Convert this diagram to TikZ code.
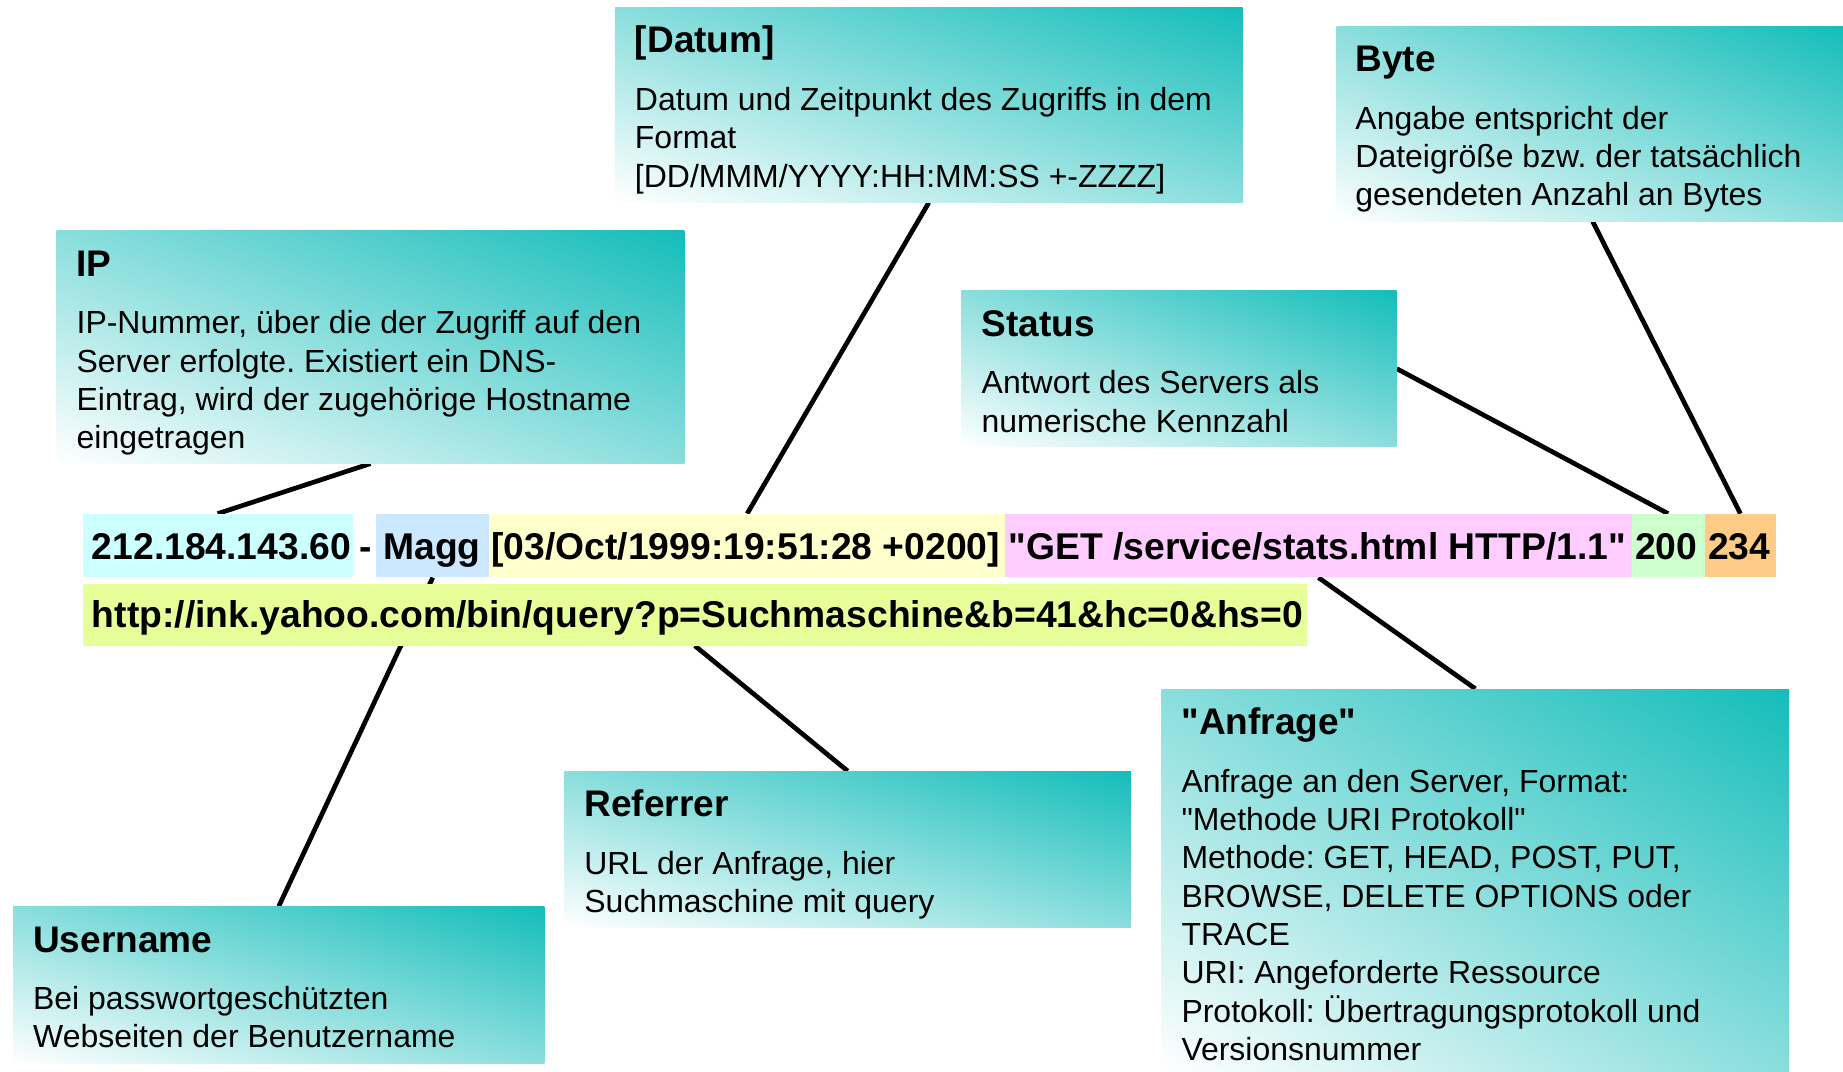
\documentclass[tikz,border=0pt]{standalone}
\usepackage{fontspec}
\setmainfont{Liberation Sans}[Ligatures=TeXOff]
\usetikzlibrary{calc}
\pgfdeclarelayer{bg}
\pgfsetlayers{bg,main}
\pgfdeclarefunctionalshading{tealgrad}{\pgfpoint{-50bp}{-50bp}}{\pgfpoint{50bp}{50bp}}{}{%
  add 100 div 0.5 add dup dup 0.922 mul 1 exch sub exch 0.259 mul 1 exch sub 3 2 roll 0.271 mul 1 exch sub}
\definecolor{cipc}{RGB}{204,255,255}
\definecolor{cuserc}{RGB}{204,232,255}
\definecolor{cdatec}{RGB}{255,255,204}
\definecolor{creqc}{RGB}{255,204,255}
\definecolor{cstatc}{RGB}{204,255,204}
\definecolor{cbytec}{RGB}{255,204,136}
\definecolor{curlc}{RGB}{230,255,153}
\tikzset{
  infobox/.style={draw=none, inner sep=0pt, anchor=north west, shading=tealgrad},
  ttl/.style={anchor=base west, inner sep=0pt, font=\fontsize{31.5}{36}\selectfont\bfseries},
  bdy/.style={anchor=base west, inner sep=0pt, font=\fontsize{27.2}{32.6}\selectfont\frenchspacing},
  seg/.style={anchor=north west, inner sep=0pt, draw=none},
  logtxt/.style={anchor=base west, inner sep=0pt, font=\fontsize{31.7}{38}\selectfont\bfseries},
  conn/.style={line width=4pt}
}
\begin{document}
\frenchspacing
\begin{tikzpicture}[x=1pt,y=-1pt]
\useasboundingbox (0,0) rectangle (1568,912);
% info boxes
\node[infobox, minimum width=534pt, minimum height=198pt] (ipbox) at (48,196) {};
\node[ttl] (iptitle) at (65,235) {IP};
\node[bdy] (ipbody) at (65,284) {\parbox[t]{600pt}{\raggedright\frenchspacing IP-Nummer, über die der Zugriff auf den\\Server erfolgte. Existiert ein DNS-\\Eintrag, wird der zugehörige Hostname\\eingetragen}};

\node[infobox, minimum width=534pt, minimum height=166pt] (datbox) at (523,6) {};
\node[ttl] (dattitle) at (540,45) {[Datum]};
\node[bdy] (datbody) at (540,94) {\parbox[t]{600pt}{\raggedright\frenchspacing Datum und Zeitpunkt des Zugriffs in dem\\Format\\{}[DD/MMM/YYYY:HH:MM:SS +-ZZZZ]}};

\node[infobox, minimum width=431pt, minimum height=166pt] (bytbox) at (1137,22) {};
\node[ttl] (byttitle) at (1153,61) {Byte};
\node[bdy] (bytbody) at (1153,110) {\parbox[t]{600pt}{\raggedright\frenchspacing Angabe entspricht der\\Dateigröße bzw. der tatsächlich\\gesendeten Anzahl an Bytes}};

\node[infobox, minimum width=370pt, minimum height=133pt] (stabox) at (818,247) {};
\node[ttl] (statitle) at (835,286) {Status};
\node[bdy] (stabody) at (835,335) {\parbox[t]{600pt}{\raggedright\frenchspacing Antwort des Servers als\\numerische Kennzahl}};

\node[infobox, minimum width=482pt, minimum height=133pt] (refbox) at (480,656) {};
\node[ttl] (reftitle) at (497,695) {Referrer};
\node[bdy] (refbody) at (497,744) {\parbox[t]{600pt}{\raggedright\frenchspacing URL der Anfrage, hier\\Suchmaschine mit query}};

\node[infobox, minimum width=534pt, minimum height=326pt] (anfbox) at (988,586) {};
\node[ttl] (anftitle) at (1005,625) {"Anfrage"};
\node[bdy] (anfbody) at (1005,674) {\parbox[t]{600pt}{\raggedright\frenchspacing Anfrage an den Server, Format:\\"Methode URI Protokoll"\\Methode: GET, HEAD, POST, PUT,\\BROWSE, DELETE OPTIONS oder\\TRACE\\URI: Angeforderte Ressource\\Protokoll: Übertragungsprotokoll und\\Versionsnummer}};

\node[infobox, minimum width=452pt, minimum height=134pt] (usrbox) at (11,771) {};
\node[ttl] (usrtitle) at (28,810) {Username};
\node[bdy] (usrbody) at (28,859) {\parbox[t]{600pt}{\raggedright\frenchspacing Bei passwortgeschützten\\Webseiten der Benutzername}};

% log line segments
\node[seg, fill=cipc, minimum width=230pt, minimum height=54pt] (sip) at (70,437) {};
\node[seg, fill=cuserc, minimum width=96pt, minimum height=54pt] (susr) at (320,437) {};
\node[seg, fill=cdatec, minimum width=439pt, minimum height=54pt] (sdat) at (416,437) {};
\node[seg, fill=creqc, minimum width=533pt, minimum height=54pt] (sreq) at (855,437) {};
\node[seg, fill=cstatc, minimum width=62pt, minimum height=54pt] (ssta) at (1388,437) {};
\node[seg, fill=cbytec, minimum width=61pt, minimum height=54pt] (sbyt) at (1450,437) {};
\node[seg, fill=curlc, minimum width=1042pt, minimum height=52pt] (surl) at (70,497) {};

\node[logtxt] (tip) at (78,476) {212.184.143.60};
\node[logtxt] (tdash) at (306,476) {-};
\node[logtxt] (tusr) at (326,476) {Magg};
\node[logtxt] (tdat) at (418,476) {[03/Oct/1999:19:51:28 +0200]};
\node[logtxt] (treq) at (858,476) {"GET /service/stats.html HTTP/1.1"};
\node[logtxt] (tsta) at (1391,476) {200};
\node[logtxt] (tbyt) at (1453,476) {234};
\node[logtxt] (turl) at (78,534) {http://ink.yahoo.com/bin/query?p=Suchmaschine\&b=41\&hc=0\&hs=0};

% connectors
\begin{pgfonlayer}{bg}
\draw[conn] (ipbox.south) -- (sip.north);
\draw[conn] (datbox.south) -- (sdat.north);
\draw[conn] ([xshift=218pt]bytbox.south west) -- (sbyt.north);
\draw[conn] (stabox.east) -- (ssta.north);
\draw[conn] (sreq.south) -- (anfbox.north);
\draw[conn] (surl.south) -- (refbox.north);
\draw[conn] (susr.south) -- (usrbox.north);
\end{pgfonlayer}
\end{tikzpicture}
\end{document}
